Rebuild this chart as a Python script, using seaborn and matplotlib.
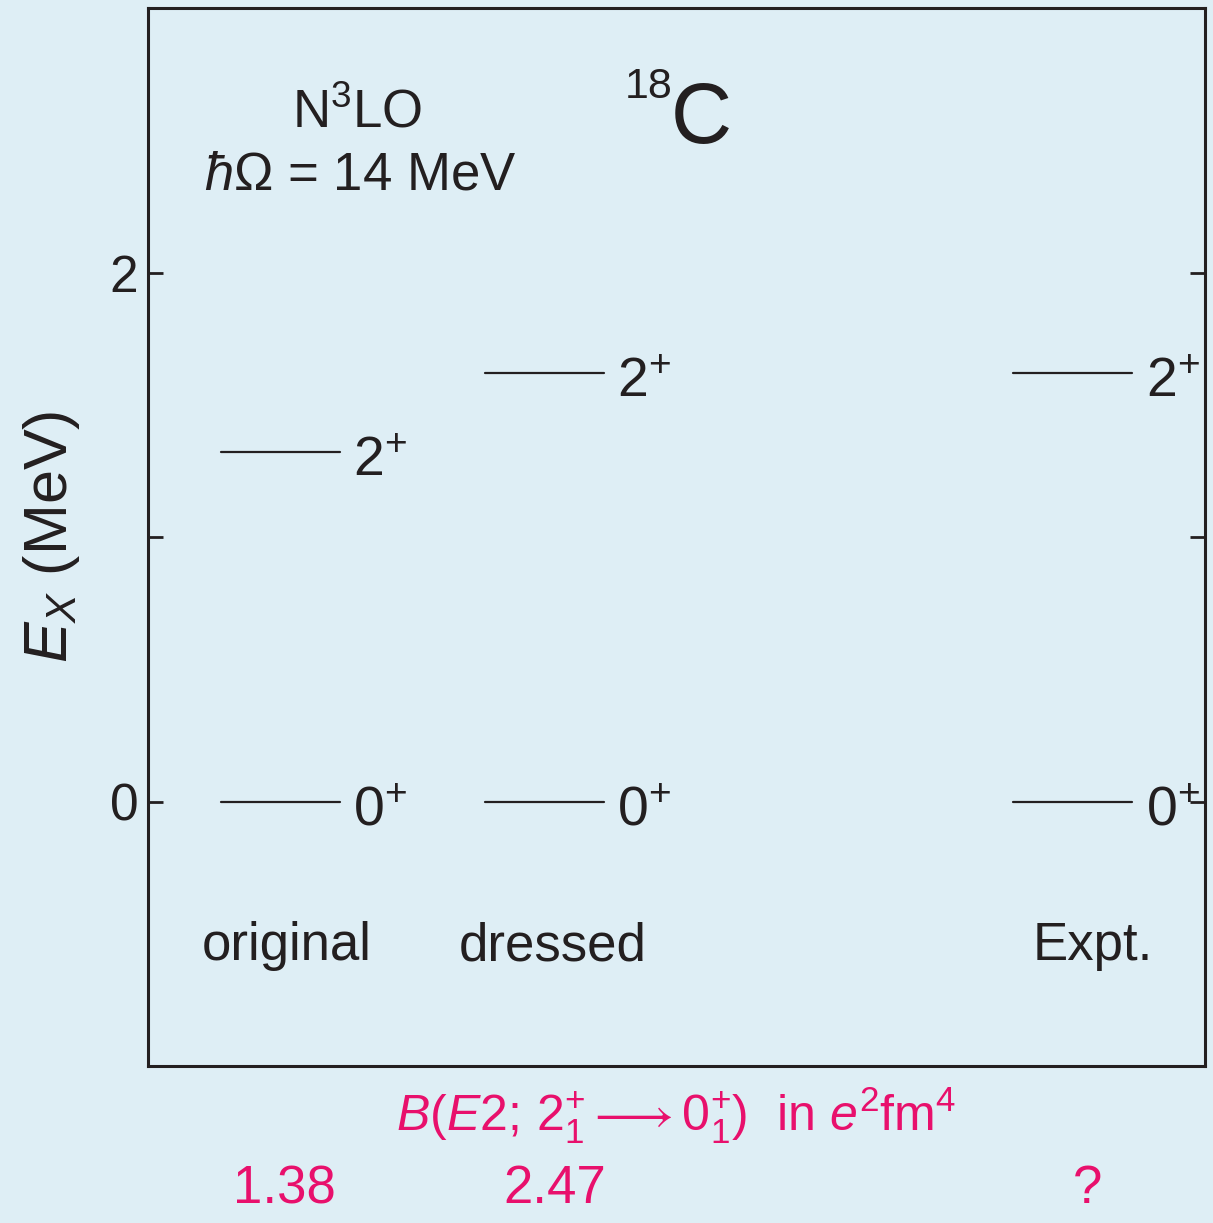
import numpy as np
import pandas as pd
import matplotlib
matplotlib.use("Agg")
import matplotlib.pyplot as plt
import seaborn as sns

# Level scheme data (MeV)
columns = ["original", "dressed", "Expt."]
col_x = [0.5, 1.5, 3.5]
e_ground = [0.0, 0.0, 0.0]
e_first2 = [1.32, 1.62, 1.62]
ground_label = r"$0^{+}$"
first2_label = r"$2^{+}$"
be2_values = ["1.38", "2.47", "?"]

BG = "#deeef5"
INK = "#231f20"
PINK = "#e8106c"

sns.set_theme(style="ticks")
plt.rcParams["font.family"] = ["Liberation Sans", "DejaVu Sans"]
plt.rcParams["mathtext.fontset"] = "custom"
plt.rcParams["mathtext.rm"] = "Liberation Sans"
plt.rcParams["mathtext.it"] = "Liberation Sans:italic"
plt.rcParams["mathtext.bf"] = "Liberation Sans:bold"

# segments in long form for seaborn
half = 0.225
rows = []
uid = 0
for xc, e0, e2 in zip(col_x, e_ground, e_first2):
    for e in (e0, e2):
        rows.append({"x": xc - half, "E": e, "unit": uid})
        rows.append({"x": xc + half, "E": e, "unit": uid})
        uid += 1
levels = pd.DataFrame(rows)

fig = plt.figure(figsize=(12.13, 12.23), dpi=100)
fig.patch.set_facecolor(BG)
ax = fig.add_axes([148 / 1213, 1 - 1066 / 1223, 1057 / 1213, 1058 / 1223])
ax.set_facecolor(BG)

sns.lineplot(data=levels, x="x", y="E", units="unit", estimator=None,
             color=INK, linewidth=1.6, ax=ax, legend=False)

ax.set_xlim(0, 4)
ax.set_ylim(-1.0, 3.0)
ax.set_xticks([])
ax.set_yticks([0, 1, 2])
ax.set_yticklabels(["0", "", "2"])
ax.tick_params(axis="y", direction="in", length=11, width=2.0, color=INK,
               labelsize=37, labelcolor=INK, pad=7, right=True, left=True)
for s in ax.spines.values():
    s.set_linewidth(2.2)
    s.set_color(INK)
ax.set_xlabel("")
ax.set_ylabel(r"$E_{X}$ (MeV)", fontsize=44, color=INK, labelpad=20)

# state labels
for xc, e0, e2 in zip(col_x, e_ground, e_first2):
    ax.text(xc + half + 0.05, e0 - 0.09, ground_label, fontsize=40, color=INK,
            ha="left", va="baseline")
    ax.text(xc + half + 0.05, e2 - 0.09, first2_label, fontsize=40, color=INK,
            ha="left", va="baseline")

# column names
name_dx = [0.026, 0.033, 0.076]
for xc, dx, name in zip(col_x, name_dx, columns):
    ax.text(xc + dx, -0.6, name, fontsize=38, color=INK, ha="center", va="baseline")

# header annotations
fig.text(357 / 1213, 1 - 128 / 1223, r"N$^{3}$LO", fontsize=38, color=INK,
         ha="center", va="baseline")
fig.text(360 / 1213, 1 - 190 / 1223, r"$\it{ħΩ}$ = 14 MeV", fontsize=38,
         color=INK, ha="center", va="baseline")
fig.text(671 / 1213, 1 - 143 / 1223, "C", fontsize=61, color=INK,
         ha="left", va="baseline")
fig.text(673 / 1213, 1 - 98 / 1223, "18", fontsize=31, color=INK,
         ha="right", va="baseline")

# B(E2) row
fig.text(676 / 1213, 1 - 1130 / 1223,
         r"$\it{B}(\it{E}2;\, 2_{1}^{+} \longrightarrow 0_{1}^{+})$  in $\it{e}^{2}$fm$^{4}$",
         fontsize=36, color=PINK, ha="center", va="baseline")
be2_dx = [0.015, 0.04, 0.057]
for xc, dx, val in zip(col_x, be2_dx, be2_values):
    ax.text(xc + dx, -0.1295, val, transform=ax.get_xaxis_transform(),
            fontsize=38, color=PINK, ha="center", va="baseline", clip_on=False)

fig.savefig("out.png", dpi=100, facecolor=BG)
